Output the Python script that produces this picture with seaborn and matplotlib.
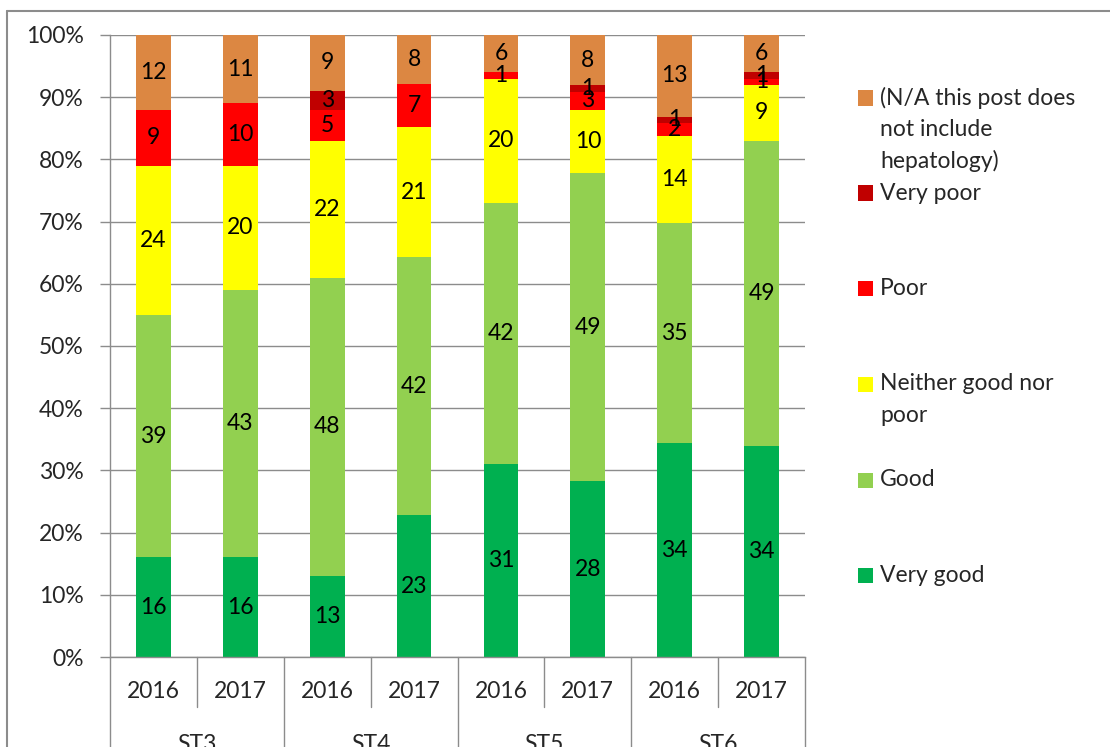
import seaborn as sns
import matplotlib.pyplot as plt
import numpy as np
import pandas as pd
from matplotlib.ticker import PercentFormatter
from matplotlib.transforms import blended_transform_factory
from matplotlib.lines import Line2D
from matplotlib.patches import Rectangle

groups = ["ST3", "ST4", "ST5", "ST6"]
years = ["2016", "2017"]

very_good = [16, 16, 13, 23, 31, 28, 34, 34]
good = [39, 43, 48, 42, 42, 49, 35, 49]
neither = [24, 20, 22, 21, 20, 10, 14, 9]
poor = [9, 10, 5, 7, 1, 3, 2, 1]
very_poor = [0, 0, 3, 0, 0, 1, 1, 1]
na_post = [12, 11, 9, 8, 6, 8, 13, 6]

series_names = ["Very good", "Good", "Neither good nor\npoor", "Poor", "Very poor",
                "(N/A this post does\nnot include\nhepatology)"]
series_vals = [very_good, good, neither, poor, very_poor, na_post]
colors = ["#00B050", "#92D050", "#FFFF00", "#FF0000", "#C00000", "#DC8742"]

sns.set_style("white")
plt.rcParams['font.family'] = ['Lato', 'DejaVu Sans']
FS = 16.5
GREY = "#8C8C8C"

bars = [f"{g} {y}" for g in groups for y in years]
vals = np.array(series_vals, dtype=float)
pct = vals / vals.sum(axis=0) * 100
cum = np.cumsum(pct, axis=0)

fig = plt.figure(figsize=(11.1, 7.47), dpi=100)
ax = fig.add_axes([110 / 1110, 90 / 747, 695 / 1110, 622 / 747])

# stacked bars: draw the cumulative tops from the top series down
for k in range(len(series_vals) - 1, -1, -1):
    sns.barplot(x=bars, y=cum[k], color=colors[k], width=0.4, linewidth=0,
                errorbar=None, saturation=1, ax=ax)

for k in range(len(series_vals)):
    for i in range(len(bars)):
        v = series_vals[k][i]
        if v > 0:
            mid = cum[k][i] - pct[k][i] / 2
            ax.text(i, mid, str(v), ha="center", va="center", fontsize=FS, color="black")

ax.set_xlim(-0.5, 7.5)
ax.set_ylim(0, 100)
ax.set_yticks(np.arange(0, 101, 10))
ax.yaxis.set_major_formatter(PercentFormatter(xmax=100, decimals=0))
ax.tick_params(axis="y", length=7, width=1, color=GREY, pad=12, labelsize=FS, left=True)
ax.set_xticks([])
ax.set_xlabel("")
ax.set_ylabel("")
ax.yaxis.grid(True, color=GREY, lw=1)
ax.set_axisbelow(True)
for s in ["top", "right"]:
    ax.spines[s].set_visible(False)
for s in ["left", "bottom"]:
    ax.spines[s].set_color(GREY)
    ax.spines[s].set_linewidth(1)

# two-level category axis
tr = blended_transform_factory(ax.transData, ax.transAxes)
for i in range(len(bars)):
    ax.text(i, -0.056, years[i % 2], transform=tr, ha="center", va="center", fontsize=FS)
for j, g in enumerate(groups):
    ax.text(2 * j + 0.5, -0.124, g, transform=tr, ha="center", va="top", fontsize=FS)
for j in range(len(groups)):
    ax.plot([2 * j + 0.5] * 2, [0, -0.081], transform=tr, color=GREY, lw=1, clip_on=False)
for j in range(len(groups) + 1):
    ax.plot([2 * j - 0.5] * 2, [0, -0.2], transform=tr, color=GREY, lw=1, clip_on=False)

# legend
legend_y = [98, 193, 289, 384, 480, 575]
for n, k in enumerate(range(len(series_vals) - 1, -1, -1)):
    yc = 1 - legend_y[n] / 747
    fig.add_artist(Rectangle((858 / 1110, yc - 7.5 / 747), 15 / 1110, 15 / 747,
                             transform=fig.transFigure, color=colors[k], lw=0))
    for li, line in enumerate(series_names[k].split("\n")):
        fig.text(880 / 1110, yc - li * 31.7 / 747, line, ha="left", va="center", fontsize=FS)

# outer chart border
fig.add_artist(Line2D([7 / 1110, 1], [1 - 11 / 747] * 2, transform=fig.transFigure, color=GREY, lw=1.5))
fig.add_artist(Line2D([7 / 1110] * 2, [0, 1 - 11 / 747], transform=fig.transFigure, color=GREY, lw=1.5))

fig.savefig("out.png", dpi=100)
